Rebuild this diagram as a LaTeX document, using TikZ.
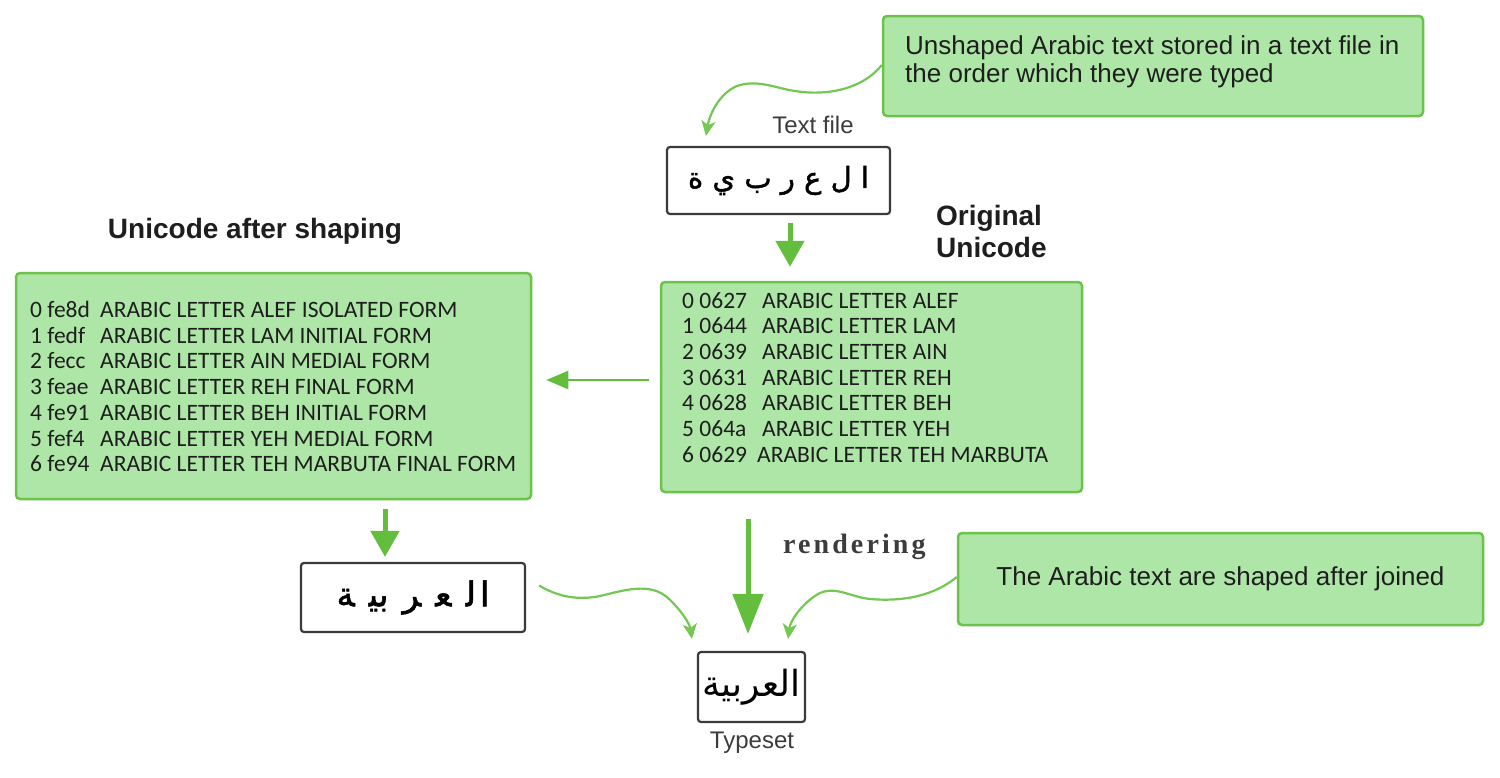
\documentclass[tikz,border=0pt]{standalone}
\usepackage{fontspec}
\setmainfont{Liberation Sans}
\newfontfamily\codefont{Carlito}
\newfontfamily\rendfont[LetterSpace=11]{Liberation Serif}
\newfontfamily\arabicfont[Script=Arabic]{DejaVu Sans}
\newfontfamily\arabicbold[Script=Arabic,FakeBold=1.5]{DejaVu Sans}
\TeXXeTstate=1
\usetikzlibrary{arrows.meta,calc}
\definecolor{gfill}{HTML}{ADE6A6}
\definecolor{gline}{HTML}{6CC24A}
\definecolor{agreen}{HTML}{62BE3C}
\definecolor{cgreen}{HTML}{72C850}
\definecolor{bline}{HTML}{3A3A3A}
\definecolor{txt}{HTML}{1E1E1E}
\definecolor{lgray}{HTML}{3C3C3C}
\newcommand{\colA}[1]{\makebox[70pt][l]{#1}}
\newcommand{\colB}[1]{\makebox[80pt][l]{#1}}
\newcommand{\agap}{\hspace{14pt}}
\tikzset{
  greenbox/.style={draw=gline, fill=gfill, line width=2.5pt, rounded corners=4pt, inner sep=0pt},
  whitebox/.style={draw=bline, fill=white, line width=2.2pt, rounded corners=3pt, inner sep=0pt},
  bigarrow/.style={draw=agreen, line width=5pt, -{Triangle[width=28pt,length=26pt]}},
  renderarrow/.style={draw=agreen, line width=5pt, -{Triangle[width=30pt,length=40pt]}},
  sidearrow/.style={draw=agreen, line width=2.5pt, -{Triangle[width=18pt,length=22pt]}},
  curvearrow/.style={draw=cgreen, line width=2.2pt, -{Stealth[width=14pt,length=15pt,inset=4pt]}},
  plain/.style={inner sep=0pt},
  codetext/.style={plain, anchor=north west, align=left, font=\codefont\fontsize{23.5}{25.7}\selectfont, text=txt}
}
\begin{document}
\begin{tikzpicture}[x=1pt,y=-1pt]
\fill[white] (0,0) rectangle (1500,777);
\useasboundingbox (0,0) rectangle (1500,777);

% top callout
\node[greenbox, minimum width=540pt, minimum height=100pt] (c1) at (1153,66) {};
\node[plain, anchor=north west, align=left, font=\fontsize{26}{28}\selectfont, text=txt] (c1t) at (905,35)
  {Unshaped Arabic text stored in a text file in\\the order which they were typed};

% text file
\node[plain, font=\fontsize{24}{26}\selectfont, text=lgray] (tfl) at (813,125) {Text file};
\node[whitebox, minimum width=223pt, minimum height=67pt, font=\arabicbold\fontsize{29}{34}\selectfont] (tf) at (778.5,180.5)
  {\beginR ا ل ع ر ب ي ة\endR};

% titles
\node[plain, anchor=north west, align=left, font=\bfseries\fontsize{28}{32}\selectfont, text=txt] (ot) at (936,205) {Original\\Unicode};
\node[plain, font=\bfseries\fontsize{28}{32}\selectfont, text=txt] (st) at (255,231) {Unicode after shaping};

% original unicode box
\node[greenbox, minimum width=421pt, minimum height=210pt] (ob) at (871.5,387) {};
\node[codetext] (obt) at (682,292) {%
\colB{0 0627}ARABIC LETTER ALEF\\
\colB{1 0644}ARABIC LETTER LAM\\
\colB{2 0639}ARABIC LETTER AIN\\
\colB{3 0631}ARABIC LETTER REH\\
\colB{4 0628}ARABIC LETTER BEH\\
\colB{5 064a}ARABIC LETTER YEH\\
\makebox[75pt][l]{6 0629}ARABIC LETTER TEH MARBUTA};

% shaped unicode box
\node[greenbox, minimum width=515pt, minimum height=226pt] (sb) at (273.5,386) {};
\node[codetext] (sbt) at (30,301) {%
\colA{0 fe8d}ARABIC LETTER ALEF ISOLATED FORM\\
\colA{1 fedf}ARABIC LETTER LAM INITIAL FORM\\
\colA{2 fecc}ARABIC LETTER AIN MEDIAL FORM\\
\colA{3 feae}ARABIC LETTER REH FINAL FORM\\
\colA{4 fe91}ARABIC LETTER BEH INITIAL FORM\\
\colA{5 fef4}ARABIC LETTER YEH MEDIAL FORM\\
\colA{6 fe94}ARABIC LETTER TEH MARBUTA FINAL FORM};

% shaped glyph box
\node[whitebox, minimum width=224pt, minimum height=69pt, font=\arabicbold\fontsize{34}{38}\selectfont] (sh) at (413,597.5)
  {\beginR ﺍ\hspace{4pt}ﻟ\agap ﻌ\agap ﺮ\agap ﺑﻴ\agap ﺔ\endR};

% bottom callout
\node[greenbox, minimum width=525pt, minimum height=92pt, font=\fontsize{26}{28}\selectfont, text=txt] (c2) at (1220.5,579)
  {The Arabic text are shaped after joined};

% typeset
\node[whitebox, minimum width=107pt, minimum height=70pt, font=\arabicfont\fontsize{36}{40}\selectfont] (ts) at (751.5,687)
  {\beginR العربية\endR};
\node[plain, font=\fontsize{24}{26}\selectfont, text=lgray] (tsl) at (752,743) {Typeset};

% rendering label
\node[plain, anchor=base west, font=\rendfont\bfseries\fontsize{28}{30}\selectfont, text=lgray] (rl) at (783,553) {rendering};

% arrows
\draw[bigarrow] ($(tf.south)+(11.5,8)$) -- ($(tf.south |- ob.north)+(11.5,-14)$);
\draw[sidearrow] ($(ob.west)+(-11,-7)$) -- ($(sb.east)+(14,-6)$);
\draw[bigarrow] ($(sh.north |- sb.south)+(-28,9)$) -- ($(sh.north)+(-28,-5)$);
\draw[renderarrow] ($(ts.north |- ob.south)+(-3.5,26)$) -- ($(ts.north)+(-3.5,-17)$);

\draw[curvearrow] ($(c1.west)+(0,-1)$) .. controls (862,90) and (825,96) .. (795,91)
  .. controls (775,88) and (760,80) .. (740,85)
  .. controls (722,90) and (710,112) .. ($(tf.north west)+(40,-10)$);
\draw[curvearrow] ($(sh.east)+(13,-12)$) .. controls (560,598) and (580,600) .. (600,596)
  .. controls (625,590) and (650,582) .. (668,598)
  .. controls (683,612) and (690,625) .. ($(ts.north west)+(-5,-12)$);
\draw[curvearrow] ($(c2.west)+(0,-2)$) .. controls (935,595) and (905,602) .. (870,599)
  .. controls (850,597) and (835,585) .. (818,594)
  .. controls (800,605) and (790,622) .. ($(ts.north east)+(-18,-12)$);
\end{tikzpicture}
\end{document}
